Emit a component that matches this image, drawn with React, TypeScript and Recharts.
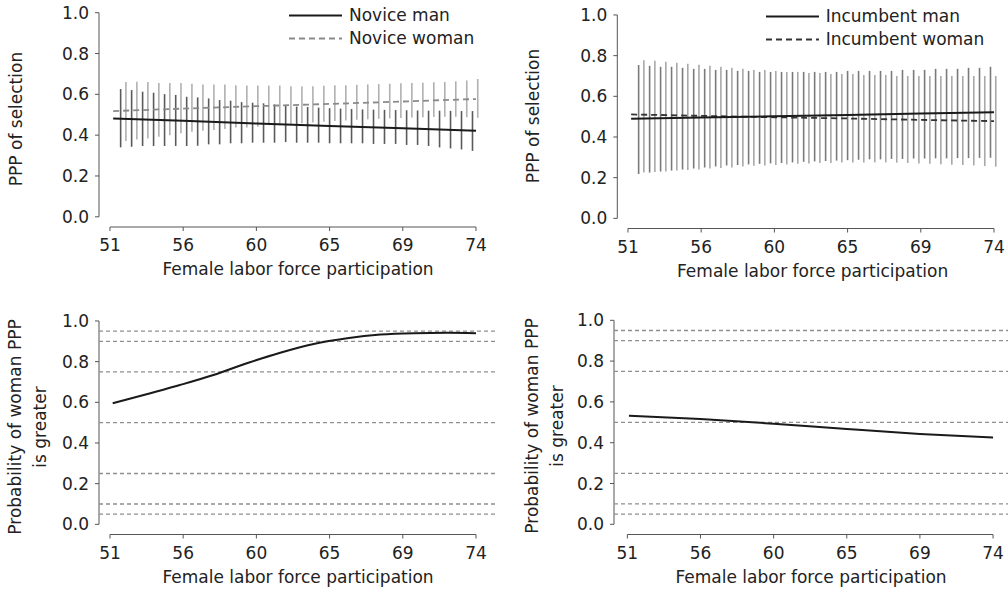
import React from "react";
import {
  ComposedChart,
  Line,
  Scatter,
  ErrorBar,
  XAxis,
  YAxis,
  ReferenceLine,
  Legend,
} from "recharts";

// axis ticks (evenly spaced, labels are rounded values)
const xTicks = [51, 55.6, 60.2, 64.8, 69.4, 74];
const xTickLabels = ["51", "56", "60", "65", "69", "74"];
const yTicks = [0, 0.2, 0.4, 0.6, 0.8, 1.0];
const refLevels = [0.05, 0.1, 0.25, 0.5, 0.75, 0.9, 0.95];

const xTitle = "Female labor force participation";

// x of interval bars: man bars, woman bars sit just right of them
const barXMan = [
  51.67, 52.36, 53.05, 53.74, 54.43, 55.13, 55.82, 56.51, 57.2, 57.89, 58.58,
  59.27, 59.96, 60.65, 61.34, 62.04, 62.73, 63.42, 64.11, 64.8, 65.49, 66.18,
  66.87, 67.56, 68.25, 68.95, 69.64, 70.33, 71.02, 71.71, 72.4, 73.09, 73.78,
];
const barXWoman = [
  52.0, 52.69, 53.38, 54.07, 54.76, 55.46, 56.15, 56.84, 57.53, 58.22, 58.91,
  59.6, 60.29, 60.98, 61.67, 62.37, 63.06, 63.75, 64.44, 65.13, 65.82, 66.51,
  67.2, 67.89, 68.58, 69.28, 69.97, 70.66, 71.35, 72.04, 72.73, 73.42, 74.11,
];

// mean lines
const lineX = [51.2, 55.6, 60.2, 64.8, 69.4, 74];

// novice panel
const noviceMan = [0.482, 0.47, 0.457, 0.445, 0.434, 0.422];
const noviceWoman = [0.518, 0.53, 0.542, 0.553, 0.565, 0.577];
const noviceManLo = [
  0.34, 0.343, 0.347, 0.347, 0.347, 0.347, 0.347, 0.348, 0.355, 0.355, 0.36,
  0.36, 0.363, 0.363, 0.363, 0.366, 0.363, 0.363, 0.363, 0.36, 0.36, 0.36, 0.36,
  0.357, 0.357, 0.357, 0.352, 0.352, 0.347, 0.34, 0.335, 0.33, 0.323,
];
const noviceManHi = [
  0.626, 0.621, 0.613, 0.608, 0.601, 0.597, 0.588, 0.585, 0.58, 0.572, 0.569,
  0.562, 0.559, 0.556, 0.551, 0.548, 0.54, 0.538, 0.535, 0.532, 0.53, 0.528,
  0.526, 0.525, 0.524, 0.523, 0.522, 0.521, 0.52, 0.52, 0.519, 0.518, 0.518,
];
const noviceWomanLo = [
  0.371, 0.379, 0.384, 0.392, 0.4, 0.409, 0.417, 0.422, 0.425, 0.43, 0.438,
  0.438, 0.441, 0.449, 0.449, 0.454, 0.458, 0.462, 0.466, 0.469, 0.472, 0.475,
  0.478, 0.48, 0.482, 0.484, 0.486, 0.488, 0.489, 0.49, 0.49, 0.488, 0.485,
];
const noviceWomanHi = [
  0.66, 0.662, 0.66, 0.655, 0.655, 0.655, 0.652, 0.648, 0.648, 0.648, 0.645,
  0.643, 0.643, 0.643, 0.643, 0.64, 0.638, 0.64, 0.642, 0.644, 0.645, 0.647,
  0.649, 0.65, 0.652, 0.654, 0.655, 0.657, 0.659, 0.661, 0.664, 0.668, 0.675,
];

// incumbent panel
const incumbentMan = [0.49, 0.496, 0.502, 0.508, 0.515, 0.522];
const incumbentWoman = [0.511, 0.504, 0.497, 0.491, 0.484, 0.478];
const incumbentManLo = [
  0.218, 0.225, 0.23, 0.235, 0.24, 0.245, 0.25, 0.255, 0.26, 0.262, 0.265,
  0.268, 0.27, 0.272, 0.275, 0.278, 0.28, 0.282, 0.284, 0.286, 0.288, 0.29,
  0.29, 0.292, 0.292, 0.294, 0.294, 0.295, 0.295, 0.296, 0.296, 0.297, 0.298,
];
const incumbentManHi = [
  0.754, 0.75, 0.745, 0.745, 0.74, 0.735, 0.735, 0.73, 0.73, 0.725, 0.725,
  0.72, 0.72, 0.72, 0.72, 0.72, 0.72, 0.72, 0.72, 0.725, 0.725, 0.725, 0.725,
  0.725, 0.73, 0.73, 0.73, 0.735, 0.735, 0.735, 0.74, 0.74, 0.745,
];
const incumbentWomanLo = [
  0.225, 0.228, 0.23, 0.235, 0.238, 0.24, 0.245, 0.248, 0.25, 0.255, 0.258,
  0.26, 0.262, 0.265, 0.268, 0.27, 0.272, 0.272, 0.274, 0.275, 0.275, 0.275,
  0.275, 0.274, 0.272, 0.27, 0.268, 0.266, 0.264, 0.262, 0.26, 0.257, 0.254,
];
const incumbentWomanHi = [
  0.777, 0.775, 0.77, 0.765, 0.76, 0.755, 0.75, 0.745, 0.74, 0.735, 0.73,
  0.73, 0.725, 0.72, 0.72, 0.715, 0.715, 0.71, 0.71, 0.71, 0.705, 0.705, 0.705,
  0.7, 0.7, 0.7, 0.7, 0.7, 0.7, 0.7, 0.7, 0.7, 0.7,
];

// probability that woman PPP is greater
const probNoviceX = [51.17, 53.3, 55.4, 57.5, 59.6, 61.7, 63.8, 65.9, 68.0, 70.1, 72.2, 74.0];
const probNovice = [0.595, 0.64, 0.685, 0.734, 0.792, 0.844, 0.887, 0.915, 0.933, 0.94, 0.942, 0.94];
const probIncumbentX = [51.1, 55.6, 60.2, 64.8, 69.4, 74];
const probIncumbent = [0.532, 0.516, 0.493, 0.467, 0.443, 0.425];

const FONT = "'DejaVu Sans', sans-serif";
const INK = "#222";
const AXIS = "#555";
const LINE = "#1a1a1a";

const toLine = (xs: number[], ys: number[]) => xs.map((x, i) => ({ x, y: ys[i] }));
const toBars = (xs: number[], lo: number[], hi: number[]) =>
  xs.map((x, i) => {
    const half = (hi[i] - lo[i]) / 2;
    return { x, y: lo[i] + half, err: [half, half] };
  });

const yTitleContent = (lines: string[], x: number, y: number) => () => (
  <g transform={`translate(${x},${y}) rotate(-90)`}>
    <text textAnchor="middle" fill={INK} fontSize={17} fontFamily={FONT}>
      {lines.map((s, i) => (
        <tspan key={i} x={0} y={6 + i * 24.5}>
          {s}
        </tspan>
      ))}
    </text>
  </g>
);

type LegendItem = { label: string; color: string; dash?: string };

const legendContent = (items: LegendItem[]) => () => (
  <div style={{ fontFamily: FONT, fontSize: 17, color: INK }}>
    {items.map((it) => (
      <div key={it.label} style={{ display: "flex", alignItems: "center", height: 23 }}>
        <svg width={53} height={23} style={{ display: "block" }}>
          <line x1={0} x2={53} y1={11.5} y2={11.5} stroke={it.color} strokeWidth={2} strokeDasharray={it.dash} />
        </svg>
        <span style={{ marginLeft: 7, lineHeight: "23px", whiteSpace: "nowrap" }}>{it.label}</span>
      </div>
    ))}
  </div>
);

type PanelProps = {
  left: number;
  top: number;
  plot: { l: number; r: number; t: number; b: number };
  xDomain: [number, number];
  yTitle: string[];
  yTitleX: number;
  yTitleY: number;
  children?: React.ReactNode;
};

const W = 504;
const H = 296;
const XH = 30;

const Panel = ({ left, top, plot, xDomain, yTitle, yTitleX, yTitleY, children }: PanelProps) => (
  <div style={{ position: "absolute", left, top, width: W, height: H }}>
    <ComposedChart
      width={W}
      height={H}
      margin={{ top: plot.t, right: W - plot.r, bottom: H - plot.b - XH, left: 0 }}
    >
      <XAxis
        type="number"
        dataKey="x"
        domain={xDomain}
        ticks={xTicks}
        interval={0}
        allowDataOverflow
        tickFormatter={(v, i) => xTickLabels[i]}
        axisLine={false}
        tickLine={{ stroke: AXIS }}
        tickSize={4}
        tickMargin={8}
        height={XH}
        tick={{ fill: INK, fontSize: 17, fontFamily: FONT }}
        label={{ value: xTitle, position: "bottom", offset: 6, fill: INK, fontSize: 17, fontFamily: FONT }}
      />
      <YAxis
        type="number"
        domain={[-0.05, 1.05]}
        ticks={yTicks}
        interval={0}
        allowDataOverflow
        tickFormatter={(v) => Number(v).toFixed(1)}
        width={plot.l}
        axisLine={false}
        tickLine={{ stroke: AXIS }}
        tickSize={4}
        tickMargin={6}
        tick={{ fill: INK, fontSize: 17, fontFamily: FONT }}
        label={yTitleContent(yTitle, yTitleX, yTitleY)}
      />
      <ReferenceLine
        segment={[{ x: 51, y: -0.05 }, { x: 74, y: -0.05 }]}
        stroke={AXIS}
        strokeWidth={1}
        ifOverflow="visible"
      />
      <ReferenceLine
        segment={[{ x: xDomain[0], y: 0 }, { x: xDomain[0], y: 1 }]}
        stroke={AXIS}
        strokeWidth={1}
        ifOverflow="visible"
      />
      {children}
    </ComposedChart>
  </div>
);

const refLines = () =>
  refLevels.map((v) => (
    <ReferenceLine key={v} y={v} stroke="#8f8f8f" strokeWidth={1.3} strokeDasharray="4 3" />
  ));

const intervalBars = (data: { x: number; y: number; err: number[] }[], color: string, key: string) => (
  <Scatter
    key={key}
    data={data}
    dataKey="y"
    fill="none"
    stroke="none"
    legendType="none"
    isAnimationActive={false}
  >
    <ErrorBar dataKey="err" direction="y" width={0} stroke={color} strokeWidth={1.6} isAnimationActive={false} />
  </Scatter>
);

export default function App() {
  return (
    <div
      style={{
        position: "absolute",
        left: 0,
        top: 0,
        width: 1008,
        height: 592,
        background: "#fff",
        fontFamily: FONT,
      }}
    >
      <Panel
        left={0}
        top={0}
        plot={{ l: 99, r: 497, t: 2.5, b: 227 }}
        xDomain={[50.31, 75.32]}
        yTitle={["PPP of selection"]}
        yTitleX={16}
        yTitleY={119}
      >
        {intervalBars(toBars(barXWoman, noviceWomanLo, noviceWomanHi), "#b0b0b0", "nwb")}
        {intervalBars(toBars(barXMan, noviceManLo, noviceManHi), "#5a5a5a", "nmb")}
        <Line
          data={toLine(lineX, noviceWoman)}
          dataKey="y"
          type="linear"
          stroke="#8a8a8a"
          strokeWidth={1.8}
          strokeDasharray="6 4"
          dot={false}
          isAnimationActive={false}
        />
        <Line
          data={toLine(lineX, noviceMan)}
          dataKey="y"
          type="linear"
          stroke={LINE}
          strokeWidth={2}
          dot={false}
          isAnimationActive={false}
        />
        <Legend
          layout="vertical"
          align="center"
          verticalAlign="middle"
          wrapperStyle={{ left: 289, top: 4 }}
          content={legendContent([
            { label: "Novice man", color: LINE },
            { label: "Novice woman", color: "#8a8a8a", dash: "6 4" },
          ])}
        />
      </Panel>

      <Panel
        left={504}
        top={0}
        plot={{ l: 113.3, r: 504, t: 4.8, b: 228.5 }}
        xDomain={[50.33, 74.88]}
        yTitle={["PPP of selection"]}
        yTitleX={29}
        yTitleY={116}
      >
        {intervalBars(toBars(barXWoman, incumbentWomanLo, incumbentWomanHi), "#a8a8a8", "iwb")}
        {intervalBars(toBars(barXMan, incumbentManLo, incumbentManHi), "#7a7a7a", "imb")}
        <Line
          data={toLine(lineX, incumbentWoman)}
          dataKey="y"
          type="linear"
          stroke="#333"
          strokeWidth={1.8}
          strokeDasharray="6 4"
          dot={false}
          isAnimationActive={false}
        />
        <Line
          data={toLine(lineX, incumbentMan)}
          dataKey="y"
          type="linear"
          stroke={LINE}
          strokeWidth={2}
          dot={false}
          isAnimationActive={false}
        />
        <Legend
          layout="vertical"
          align="center"
          verticalAlign="middle"
          wrapperStyle={{ left: 261.7, top: 5 }}
          content={legendContent([
            { label: "Incumbent man", color: LINE },
            { label: "Incumbent woman", color: "#333", dash: "6 4" },
          ])}
        />
      </Panel>

      <Panel
        left={0}
        top={296}
        plot={{ l: 99, r: 497, t: 14.8, b: 238.5 }}
        xDomain={[50.31, 75.32]}
        yTitle={["Probability of woman PPP", "is greater"]}
        yTitleX={15}
        yTitleY={131}
      >
        {refLines()}
        <Line
          data={toLine(probNoviceX, probNovice)}
          dataKey="y"
          type="monotone"
          stroke={LINE}
          strokeWidth={2}
          dot={false}
          isAnimationActive={false}
        />
      </Panel>

      <Panel
        left={504}
        top={296}
        plot={{ l: 110, r: 504, t: 14.1, b: 238.5 }}
        xDomain={[50.16, 74.94]}
        yTitle={["Probability of woman PPP", "is greater"]}
        yTitleX={28}
        yTitleY={130}
      >
        {refLines()}
        <Line
          data={toLine(probIncumbentX, probIncumbent)}
          dataKey="y"
          type="monotone"
          stroke={LINE}
          strokeWidth={2}
          dot={false}
          isAnimationActive={false}
        />
      </Panel>
    </div>
  );
}
